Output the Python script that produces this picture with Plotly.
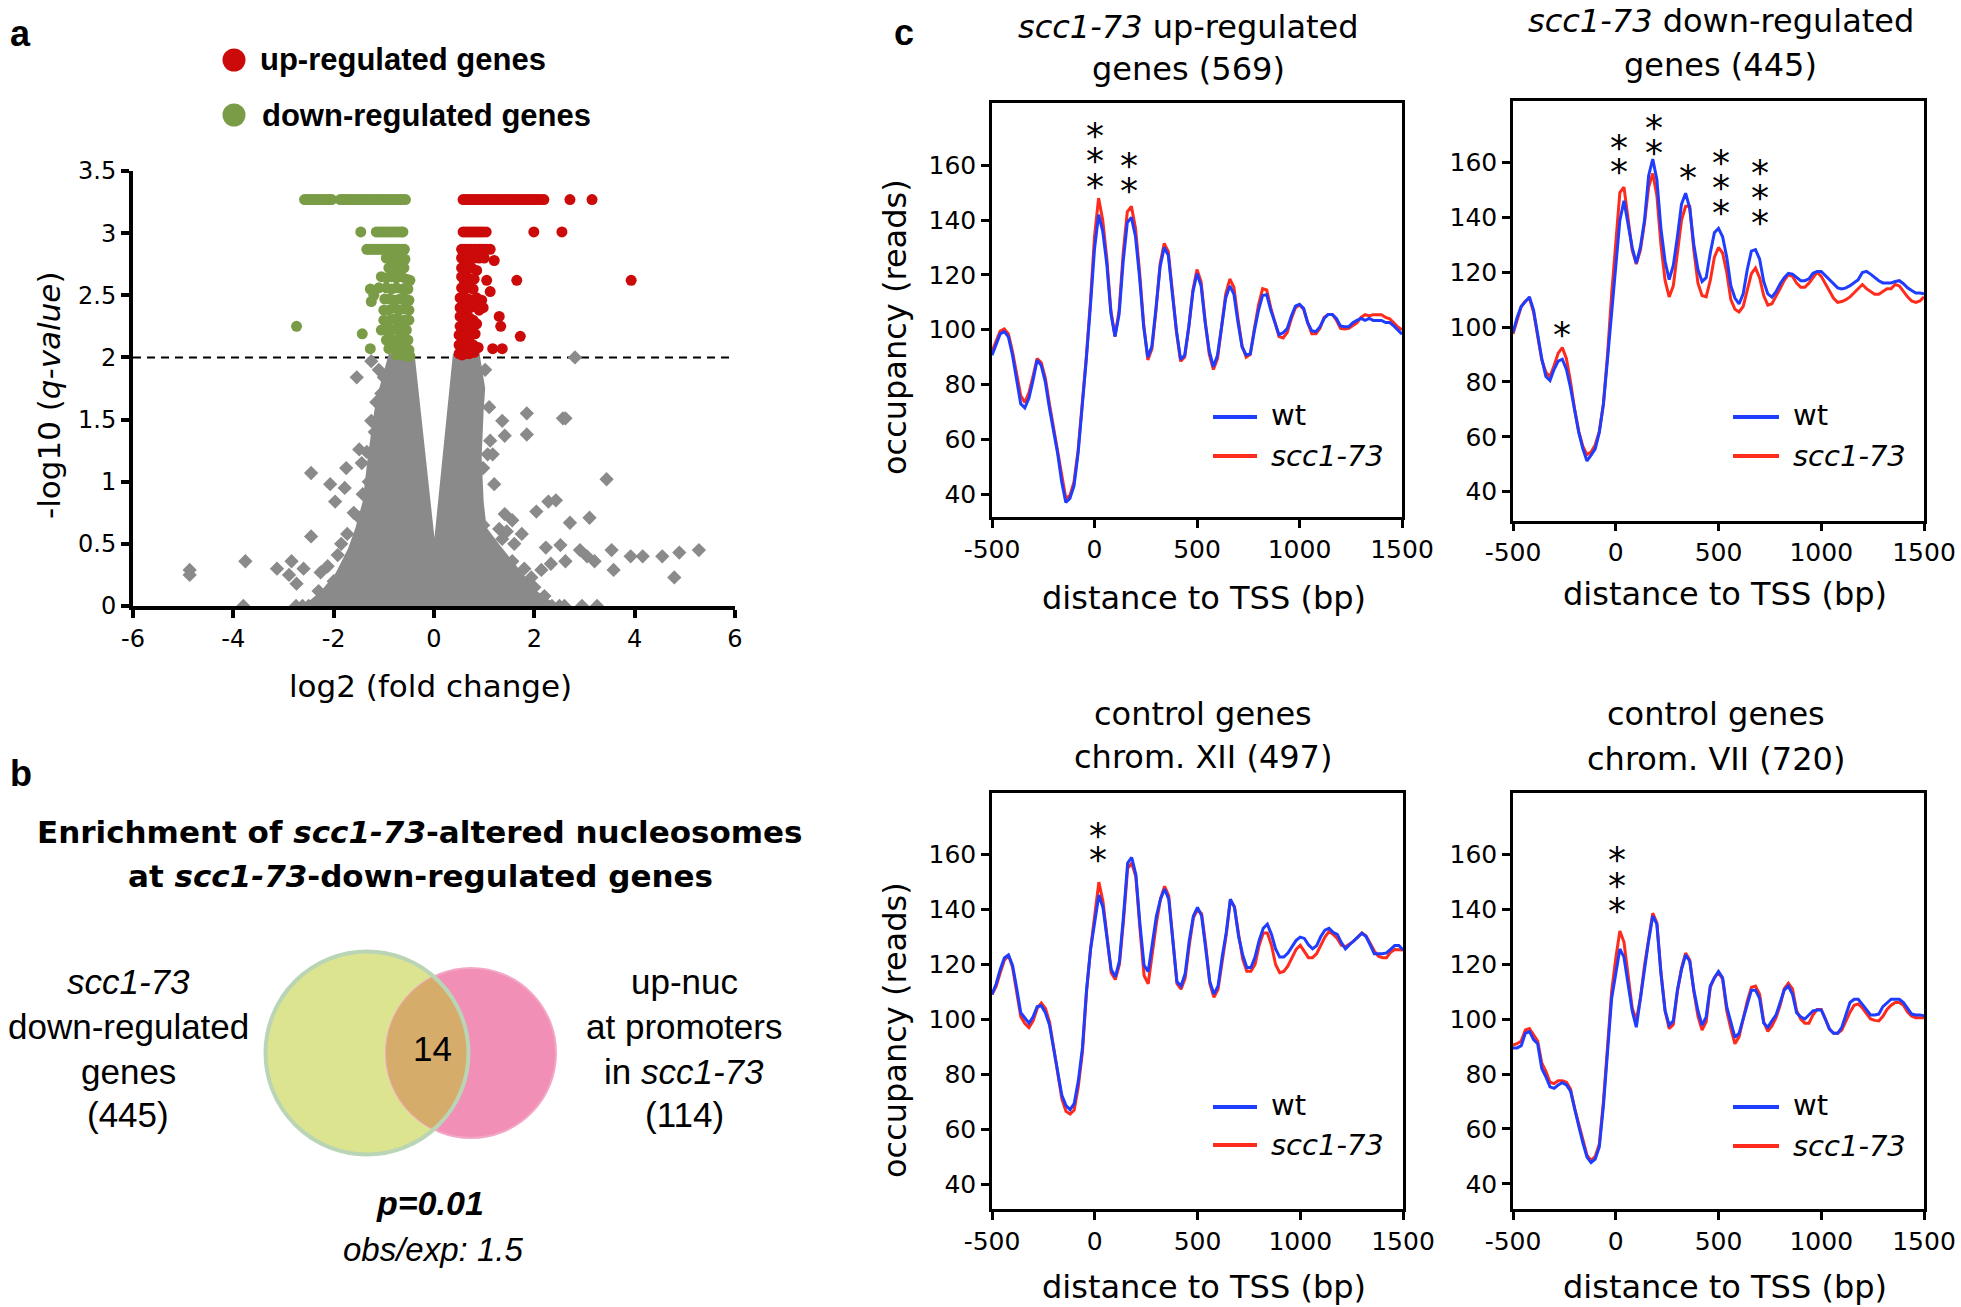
import numpy as np
import plotly.graph_objects as go

W, H = 1961, 1307


def PX(x):
    return x / W


def PY(y):
    return 1 - y / H


# ------------------------------------------------------------------ panel a data
fc_ticks = [-6, -4, -2, 0, 2, 4, 6]
q_ticks = [0, 0.5, 1, 1.5, 2, 2.5, 3, 3.5]
q_tick_labels = ["0", "0.5", "1", "1.5", "2", "2.5", "3", "3.5"]
q_threshold = 2

# outline of the dense (overplotted) grey cloud of non-significant genes
gray_poly_x = [-2.5, -2.2, -1.9, -1.65, -1.5, -1.35, -1.25, -1.12, -1.02, -0.85, -0.45, -0.33, -0.23, -0.14,
               -0.04, 0.0, 0.06, 0.15, 0.25, 0.35, 0.44, 0.85, 0.95, 0.92, 0.88, 0.92, 0.98, 1.3, 1.65, 2.0, 2.35]
gray_poly_y = [0.0, 0.1, 0.25, 0.45, 0.62, 0.84, 1.2, 1.57, 1.75, 2.0, 2.0, 1.57, 1.2, 0.84,
               0.47, 0.23, 0.47, 0.84, 1.2, 1.57, 2.0, 2.0, 1.75, 1.57, 1.2, 0.84, 0.62, 0.45, 0.27, 0.1, 0.0]

gray_x = [2.81, -1.25, -1.54, -1.0, 1.85, 1.36, 2.57, 2.62, 1.41, 1.85, 1.12, -1.0, 1.07, 1.17, -1.49, -1.34,
          -2.45, -1.75, -1.44, 0.98, 3.44, -2.07, -1.78, -1.97, -1.25, 2.04, 2.28, 2.43, 1.41, 1.56, 3.1, 2.71,
          -1.49, -1.73, -2.45, -1.92, -1.54, -3.76, -2.84, -3.13, -2.6, -4.87, -4.87, -2.89, -2.26, -2.74, -2.12,
          1.36, 1.75, 2.23, 2.52, 2.91, 3.05, 3.54, 3.92, 4.16, 4.55, 4.89, 5.28, 4.79, 3.58, 3.2, 1.94, 2.14,
          2.33, 1.75, 1.17, 1.56, 0.98, 0.88, 1.07, 2.62, -1.34, -1.25, -1.2, -1.25, -1.15, -1.05,
          -1.1, -1.18, -1.3, -1.42, -1.6, -1.85, -2.0, -2.3, 1.02, 1.1, 1.2, 1.3, 1.45, 1.6, 1.8, 2.0, 2.2,
          -3.8, -2.75, -2.62, -2.5, -2.38, -2.25, -2.1, -1.95, -1.8, -1.65, -1.5,
          1.3, 1.45, 1.6, 1.75, 1.9, 2.05, 2.2, 2.35, 2.5, 2.6, 2.95, 3.25]
gray_y = [2.0, 1.97, 1.84, 1.84, 1.55, 1.49, 1.51, 1.51, 1.37, 1.38, 1.33, 1.33, 1.22, 1.22, 1.26, 1.24,
          1.07, 1.11, 1.15, 1.11, 1.02, 0.98, 0.95, 0.84, 0.98, 0.76, 0.84, 0.85, 0.74, 0.69, 0.71, 0.67,
          0.71, 0.58, 0.56, 0.41, 0.4, 0.36, 0.36, 0.3, 0.3, 0.29, 0.25, 0.25, 0.27, 0.18, 0.32,
          0.54, 0.58, 0.47, 0.49, 0.45, 0.4, 0.45, 0.4, 0.4, 0.4, 0.43, 0.45, 0.23, 0.29, 0.36, 0.23, 0.29,
          0.34, 0.18, 0.43, 0.36, 0.65, 0.54, 0.19, 0.36, 0.54, 0.8, 1.09, 1.49, 1.64, 1.71,
          1.9, 1.4, 1.0, 0.9, 0.75, 0.5, 0.2, 0.12, 1.9, 1.6, 0.98, 0.62, 0.6, 0.5, 0.3, 0.15, 0.08,
          0, 0, 0, 0, 0, 0, 0, 0, 0, 0, 0,
          0, 0, 0, 0, 0, 0, 0, 0, 0, 0, 0, 0]

red_x = [0.58, 0.63, 0.68, 0.73, 0.78, 0.83, 0.88, 0.93, 0.98, 1.03, 1.08, 1.13, 1.18, 1.23, 1.28, 1.33, 1.38,
         1.43, 1.48, 1.53, 1.58, 1.63, 1.68, 1.73, 1.78, 1.83, 1.88, 1.93, 1.98, 2.03, 2.08, 2.13, 2.19, 2.71, 3.15,
         0.58, 0.63, 0.68, 0.73, 0.78, 0.83, 0.88, 0.93, 0.98, 1.04, 1.99, 2.55,
         0.55, 0.6, 0.65, 0.7, 0.75, 0.8, 0.85, 0.9, 0.95, 1.0, 1.05, 1.12,
         0.55, 0.62, 0.7, 0.8, 0.9, 1.0, 1.2,
         0.55, 0.62, 0.68, 0.75, 0.85,
         0.55, 0.6, 0.68, 0.8, 1.05, 1.65, 3.93,
         0.55, 0.62, 0.7, 0.78, 1.12,
         0.52, 0.6, 0.68, 0.85, 0.95,
         0.52, 0.58, 0.65, 0.72, 0.8, 0.9, 0.98,
         0.52, 0.6, 0.7, 0.78, 1.3,
         0.52, 0.58, 0.65, 0.75, 0.85, 1.33,
         0.5, 0.57, 0.64, 0.72, 0.82, 1.72,
         0.5, 0.56, 0.62, 0.7, 0.78, 0.88, 1.17, 1.36,
         0.5, 0.56, 0.62, 0.7, 0.8]
red_y = [3.27] * 35 + [3.01] * 12 + [2.87] * 12 + \
        [2.8, 2.8, 2.8, 2.8, 2.8, 2.8, 2.78,
         2.72, 2.72, 2.72, 2.72, 2.7,
         2.65, 2.62, 2.64, 2.63, 2.62, 2.62, 2.62,
         2.56, 2.55, 2.56, 2.55, 2.53,
         2.48, 2.48, 2.47, 2.48, 2.46,
         2.4, 2.4, 2.4, 2.4, 2.42, 2.38, 2.4,
         2.33, 2.33, 2.32, 2.3, 2.33,
         2.25, 2.25, 2.26, 2.25, 2.27, 2.25,
         2.18, 2.18, 2.18, 2.17, 2.19, 2.17,
         2.1, 2.1, 2.12, 2.1, 2.1, 2.08, 2.07, 2.07,
         2.03, 2.02, 2.03, 2.03, 2.04]

green_x = [-2.58, -2.53, -2.48, -2.43, -2.38, -2.33, -2.28, -2.23, -2.18, -2.13, -2.08, -2.04, -1.87, -1.82,
           -1.77, -1.72, -1.67, -1.62, -1.57, -1.52, -1.47, -1.42, -1.37, -1.32, -1.27, -1.22, -1.17, -1.12,
           -1.07, -1.02, -0.97, -0.92, -0.87, -0.82, -0.77, -0.72, -0.67, -0.62, -0.57,
           -1.46, -1.15, -1.1, -1.05, -1.0, -0.95, -0.9, -0.85, -0.8, -0.75, -0.7, -0.65, -0.62,
           -1.34, -1.29, -1.24, -1.19, -1.14, -1.09, -1.04, -0.99, -0.94, -0.89, -0.84, -0.79, -0.74, -0.69,
           -0.64, -0.59,
           -0.95, -0.85, -0.75, -0.65, -0.58,
           -0.9, -0.8, -0.7, -0.6,
           -1.05, -0.95, -0.85, -0.75, -0.65, -0.55, -0.48,
           -1.27, -1.2, -1.25, -1.1, -0.95, -0.85, -0.75, -0.62, -0.52,
           -0.98, -0.88, -0.78, -0.68, -0.58, -0.5,
           -1.0, -0.9, -0.8, -0.7, -0.6, -0.5,
           -1.0, -0.88, -0.78, -0.68, -0.58, -0.5,
           -2.74, -1.43, -1.05, -0.95, -0.85, -0.75, -0.65, -0.55,
           -0.95, -0.85, -0.72, -0.62, -0.52,
           -1.27, -0.9, -0.8, -0.7, -0.6, -0.5,
           -0.75, -0.65, -0.55, -0.48]
green_y = [3.27] * 39 + [3.01] * 13 + [2.87] * 16 + \
          [2.8, 2.8, 2.8, 2.8, 2.79,
           2.72, 2.72, 2.72, 2.72,
           2.65, 2.64, 2.65, 2.64, 2.65, 2.63, 2.62,
           2.55, 2.5, 2.45, 2.56, 2.56, 2.55, 2.56, 2.55, 2.55,
           2.47, 2.47, 2.46, 2.47, 2.47, 2.46,
           2.38, 2.38, 2.4, 2.38, 2.39, 2.38,
           2.3, 2.3, 2.31, 2.3, 2.3, 2.3,
           2.25, 2.19, 2.22, 2.22, 2.22, 2.23, 2.22, 2.22,
           2.14, 2.14, 2.15, 2.14, 2.14,
           2.07, 2.07, 2.08, 2.07, 2.06, 2.06,
           2.02, 2.02, 2.01, 2.01]

# ------------------------------------------------------------------ panel c data
tss_ticks = [-500, 0, 500, 1000, 1500]
occ_ticks = [40, 60, 80, 100, 120, 140, 160]
tss = list(range(-500, 1501, 20))  # bin centres (bp) of the occupancy profiles

c1_wt = [90.7, 95, 98.5, 99.3, 97.4, 90.7, 82, 73, 71.5, 75,
         81.5, 88.9, 87, 81, 71.5, 63, 55, 44.5, 37, 38.5,
         43, 55, 71.3, 89.2, 108.6, 129.4, 142, 136, 124, 106,
         97.5, 105.6, 125, 139.1, 141, 134, 119, 101, 90, 94,
         108, 123, 130, 127.2, 113, 99.6, 89.2, 90.7, 101.1, 113.8,
         120.5, 116, 102.6, 92.2, 86.5, 90.7, 101.1, 111.6, 116, 113,
         102.6, 93.7, 90.8, 91.2, 99.6, 107.1, 112.5, 112.8, 107.1, 102.6,
         98.2, 98.9, 100.4, 104.9, 108.6, 109.3, 107.8, 102.6, 99.6, 99.3,
         101.1, 104.1, 105.6, 105.6, 104.1, 101.4, 101.1, 101.1, 102.6, 103.4,
         104.1, 103.4, 104.1, 103.4, 103.4, 103.4, 102.6, 102.6, 101.4, 99.9,
         98.4]
c1_mut = [92, 96, 99.5, 100.3, 98.5, 92, 84, 76, 73.5, 77,
          83, 89.5, 88, 82.5, 73, 64, 56, 46, 38.5, 39.5,
          44.5, 56, 72, 90, 110, 134, 148, 140, 126, 107,
          97.5, 107, 128, 143, 145, 137, 121, 102, 89, 93,
          107, 124, 131.5, 128.5, 114, 99, 88.5, 90, 101, 114.5,
          122, 117.5, 103, 91, 85.5, 89.5, 101, 113, 118.5, 115.5,
          104, 94, 90, 91, 100.5, 109, 115, 114.5, 108, 103,
          97.5, 97, 99, 104, 108, 109, 107.5, 102.5, 98.5, 98.5,
          100.5, 104.5, 105.6, 105.6, 103.5, 100.5, 100.3, 100.5, 101.5, 102.5,
          104.5, 105.5, 105, 105.5, 105.5, 105.5, 104.5, 104, 102.5, 101,
          100]
c2_wt = [98, 103.5, 107.5, 109.4, 111, 106.2, 97, 88.5, 82, 80.5,
         84.6, 87.6, 88.3, 84.6, 77.9, 69, 61.6, 55.6, 51.2, 53.3,
         55.6, 61.6, 72, 88.3, 106.2, 124, 138.9, 146, 138, 129,
         123.3, 129.2, 138.9, 155.2, 161.2, 153.8, 135.9, 124, 117.3, 122.5,
         132.9, 144.8, 148.8, 143.3, 130, 121, 116.6, 118, 127, 134.4,
         136, 132.9, 125.5, 115.1, 110.6, 108.4, 112.1, 121, 127.7, 128.2,
         124.8, 116.6, 112.1, 110.9, 112.9, 115.8, 118, 119.6, 119.3, 118,
         116.9, 116.9, 117.6, 119.6, 120.3, 120.3, 118.8, 117.3, 115.8, 114.3,
         113.9, 114.3, 115.1, 116.1, 117.3, 119.9, 120.3, 119.3, 118, 116.9,
         116.1, 116.1, 116.1, 116.6, 116.9, 115.8, 114.3, 113.3, 112.4, 112.4,
         112.1]
c2_mut = [97.5, 103, 107.5, 109.5, 110.5, 105.5, 96, 88, 83.5, 82,
          86, 90.5, 92.5, 88.5, 80, 70, 62, 56.5, 53.5, 54.5,
          57, 62, 72, 90, 112, 130, 149, 151, 140, 128,
          123, 128, 138, 151, 156, 148, 130, 117, 111, 115,
          127, 139, 144, 144, 128, 116, 111.5, 111, 117, 125.5,
          129, 127, 120, 110, 106.5, 105.5, 107.5, 114, 119.5, 121.5,
          118, 111.5, 108, 108.5, 111, 114, 117, 119, 118.5, 116,
          114.5, 114.5, 116, 118, 120, 118.5, 116, 113.5, 110.5, 109,
          109.3, 110, 111, 112.5, 114, 115.5, 114, 113, 112, 112,
          113, 114, 114, 115.5, 115, 113, 111, 109.5, 109, 109.5,
          111]
c3_wt = [109.2, 112.9, 118.2, 122.4, 123.5, 119.7, 111.4, 102.4, 100.5, 98.6,
         100.9, 104.7, 105, 102.4, 97.9, 88.9, 79.8, 72.3, 68.6, 67.1,
         69.3, 77.6, 89.6, 110.7, 125.7, 134.7, 145.3, 140.8, 128.8, 118.2,
         115.5, 121.2, 137.7, 157, 159, 152.8, 134.7, 119.7, 117.4, 127.2,
         137.7, 143.8, 147.5, 143.8, 128.8, 113.7, 112.2, 116.7, 128.8, 137.7,
         140.8, 137.7, 125.7, 113.7, 109.2, 112.2, 122.7, 131.7, 143.8, 140.8,
         130.2, 123.5, 118.9, 118.9, 122.7, 128.8, 133.2, 134.7, 131, 125.7,
         122.7, 122.7, 124.2, 126.5, 128.8, 130, 129.5, 127.2, 125.7, 126.9,
         130.2, 132.5, 133.2, 131.7, 131, 128, 125.7, 127.2, 128.8, 130,
         131.4, 130.2, 127.2, 123.9, 123.9, 123.9, 124.2, 125.7, 126.9, 126.9,
         125.3]
c3_mut = [109, 112, 117, 121.5, 123.5, 119, 110, 101, 98.5, 97,
          99.5, 104, 106, 104, 99, 90, 80, 71, 66.5, 65.5,
          67, 75.5, 88, 110, 126, 138, 150, 143, 130, 117,
          114.5, 120, 136, 155, 157, 152, 133, 116, 113, 125,
          135, 144, 148.5, 145, 128, 113, 111, 115, 127, 137,
          140, 138.5, 127, 113, 108, 111, 121, 131, 143.5, 141,
          131, 122, 117.5, 117.5, 120, 127, 131.5, 131.5, 127, 120,
          117, 117.5, 119.5, 122.5, 125.5, 127, 124.5, 122.5, 122.5, 124,
          127, 130, 132, 131, 129.5, 127, 126.5, 127.5, 128.5, 130,
          131.5, 130.5, 127.5, 125, 123, 122.5, 122.5, 124.5, 125.5, 125.5,
          125.3]
c4_wt = [89.5, 89.5, 90.3, 94.8, 95.5, 92.5, 91, 82, 79, 75.3,
         74.8, 76, 76.8, 76, 73.8, 67, 61, 55, 49.8, 47.8,
         49, 53.5, 68.5, 88, 107.5, 116.5, 125.5, 122.5, 112, 103,
         97, 107.5, 119.5, 128.5, 137.5, 134.5, 116.5, 103, 97.8, 99.3,
         110.5, 118, 123.3, 121, 110.5, 103, 97.8, 100.8, 112, 115,
         117.3, 115, 104.5, 98.5, 93.3, 94.8, 100, 106, 110.5, 110.5,
         107.5, 98.5, 97, 99.3, 101.5, 106, 110.5, 112, 109, 102.3,
         100.8, 100, 101.5, 103, 103.3, 103.3, 100, 96.3, 94.8, 94.8,
         97, 101.5, 106, 107.2, 107.2, 105.3, 103.3, 101.5, 101.5, 101.8,
         104.5, 106, 107.2, 107.2, 107.2, 106, 103.8, 101.8, 101.5, 101.5,
         101.2]
c4_mut = [90.5, 91, 92, 96, 96.5, 94, 92, 84, 81, 77,
          76.5, 77.5, 77.5, 77, 74.5, 67.5, 61.5, 56, 50.5, 48.5,
          50, 54.5, 70, 90, 110, 122, 132, 128, 116, 104,
          99.5, 107.5, 119.5, 129, 138.5, 135, 117, 103, 96.5, 98,
          110, 118.5, 124, 121.5, 110, 101, 96, 99, 111.5, 115,
          117, 114.5, 103, 96.5, 91, 93.5, 100, 106.5, 111.5, 112,
          109, 99, 95.5, 97.5, 100.5, 105, 111, 113, 111, 103,
          100, 98.5, 98.5, 101.5, 103.5, 103.5, 100, 96.3, 94.8, 94.8,
          96, 99.5, 102.5, 105, 105.5, 104, 102, 100, 99.5, 99.3,
          101, 103.5, 105, 106, 106, 105, 102.5, 101, 100.5, 100.5,
          100.5]

# significance asterisks (bp, occupancy) for each panel
c1_stars_x = [0, 0, 0, 170, 170]
c1_stars_y = [174.2, 164.9, 155.5, 163.3, 154]
c2_stars_x = [-260, 14, 14, 184, 184, 352, 510, 510, 510, 702, 702, 702]
c2_stars_y = [100.7, 168.9, 160, 176, 166.8, 157.8, 163.1, 154.2, 145.1, 159.7, 150.5, 141.4]
c3_stars_x = [16, 16]
c3_stars_y = [170.4, 161.5]
c4_stars_x = [8, 8, 8]
c4_stars_y = [161.2, 152, 142.75]

# ------------------------------------------------------------------ styles
GRAY = "#8a8a8a"
RED = "#cc0a0a"
GREEN = "#7a9c47"
BLUE_L = "#1f3dff"
RED_L = "#ff2b1c"
DV = "DejaVu Sans"
LS = "Liberation Sans"

fig = go.Figure()

# ---------------- panel a traces
fig.add_trace(go.Scatter(x=gray_poly_x, y=gray_poly_y, fill="toself", fillcolor=GRAY, mode="lines",
                         line=dict(color=GRAY, width=7), xaxis="x", yaxis="y", hoverinfo="skip"))
fig.add_trace(go.Scatter(x=gray_x, y=gray_y, mode="markers", xaxis="x", yaxis="y",
                         marker=dict(symbol="diamond", size=11, color=GRAY, line=dict(width=0))))
fig.add_trace(go.Scatter(x=green_x, y=green_y, mode="markers", xaxis="x", yaxis="y",
                         marker=dict(symbol="circle", size=11, color=GREEN, line=dict(width=0))))
fig.add_trace(go.Scatter(x=red_x, y=red_y, mode="markers", xaxis="x", yaxis="y",
                         marker=dict(symbol="circle", size=11, color=RED, line=dict(width=0))))

# ---------------- panel c traces
profiles = [(c1_wt, c1_mut), (c2_wt, c2_mut), (c3_wt, c3_mut), (c4_wt, c4_mut)]
for k, (wt, mut) in enumerate(profiles, start=2):
    fig.add_trace(go.Scatter(x=tss, y=mut, mode="lines", line=dict(color=RED_L, width=3),
                             xaxis=f"x{k}", yaxis=f"y{k}"))
    fig.add_trace(go.Scatter(x=tss, y=wt, mode="lines", line=dict(color=BLUE_L, width=3),
                             xaxis=f"x{k}", yaxis=f"y{k}"))

# ---------------- axes
layout = dict(
    width=W, height=H, margin=dict(l=0, r=0, t=0, b=0, autoexpand=False), showlegend=False,
    paper_bgcolor="white", plot_bgcolor="rgba(0,0,0,0)",
    xaxis=dict(domain=[PX(133), PX(735)], range=[-6, 6], anchor="y", showgrid=False, zeroline=False,
               automargin=False,
               showline=True, linecolor="black", linewidth=4, ticks="outside", ticklen=8, tickwidth=3.5,
               tickcolor="black", tickvals=fc_ticks, ticktext=[str(v) for v in fc_ticks],
               tickfont=dict(family=DV, size=24, color="black")),
    yaxis=dict(domain=[PY(606), PY(171)], range=[0, 3.5], anchor="x", showgrid=False, zeroline=False,
               automargin=False,
               showline=True, linecolor="black", linewidth=4, ticks="outside", ticklen=8, tickwidth=3.5,
               tickcolor="black", tickvals=q_ticks, ticktext=q_tick_labels,
               tickfont=dict(family=DV, size=24, color="black")),
)

c_boxes = [
    ((992, 1402), (103, 517), (31.7, 182.7)),
    ((1513, 1924), (101, 520.5), (29.5, 182.4)),
    ((992, 1403), (793, 1209), (30.9, 182.5)),
    ((1513, 1924), (793, 1209), (30.9, 182.2)),
]
for k, ((x0, x1), (y0, y1), yr) in enumerate(c_boxes, start=2):
    common = dict(showgrid=False, zeroline=False, showline=True, mirror=True, linecolor="black",
                  linewidth=2.5, ticks="outside", ticklen=8, tickwidth=2.5, tickcolor="black",
                  automargin=False, tickfont=dict(family=DV, size=25, color="black"))
    layout[f"xaxis{k}"] = dict(domain=[PX(x0), PX(x1)], range=[-500, 1500], anchor=f"y{k}",
                               tickvals=tss_ticks, ticktext=[str(v) for v in tss_ticks], **common)
    layout[f"yaxis{k}"] = dict(domain=[PY(y1), PY(y0)], range=list(yr), anchor=f"x{k}",
                               tickvals=occ_ticks, ticktext=[str(v) for v in occ_ticks], **common)
fig.update_layout(**layout)

# ---------------- annotations
anns = []


def ann(text, x, y, size, family=DV, xanchor="center", yanchor="middle", angle=0):
    anns.append(dict(text=text, x=PX(x), y=PY(y), xref="paper", yref="paper", showarrow=False,
                     font=dict(family=family, size=size, color="black"), xanchor=xanchor,
                     yanchor=yanchor, textangle=angle))


# panel letters
ann("<b>a</b>", 20, 33, 36, family=LS)
ann("<b>b</b>", 21, 773, 36, family=LS)
ann("<b>c</b>", 904, 32, 36, family=LS)

# panel a legend + titles
ann("<b>up-regulated genes</b>", 258, 60, 31, family=LS, xanchor="left")
ann("<b>down-regulated genes</b>", 260, 115, 31, family=LS, xanchor="left")
ann("log2 (fold change)", 430, 686, 31)
ann("-log10 (<i>q-value</i>)", 49, 395, 31, angle=-90)

# panel b texts
ann("<b>Enrichment of <i>scc1-73</i>-altered nucleosomes</b>", 420, 832, 31)
ann("<b>at <i>scc1-73</i>-down-regulated genes</b>", 420, 876, 31)
for txt, yy in [("<i>scc1-73</i>", 981), ("down-regulated", 1026), ("genes", 1071), ("(445)", 1114)]:
    ann(txt, 128, yy, 35, family=LS)
for txt, yy in [("up-nuc", 981), ("at promoters", 1026), ("in <i>scc1-73</i>", 1071), ("(114)", 1114)]:
    ann(txt, 684, yy, 35, family=LS)
ann("14", 432, 1048, 35, family=LS)
ann("<b><i>p=0.01</i></b>", 430, 1203, 34, family=LS)
ann("<i>obs/exp: 1.5</i>", 433, 1249, 33, family=LS)

# panel c titles
ann("<i>scc1-73</i> up-regulated", 1188, 27, 32)
ann("genes (569)", 1188, 69, 32)
ann("<i>scc1-73</i> down-regulated", 1721, 21, 32)
ann("genes (445)", 1720, 65, 32)
ann("control genes", 1203, 714, 32)
ann("chrom. XII (497)", 1203, 757, 32)
ann("control genes", 1716, 714, 32)
ann("chrom. VII (720)", 1716, 759, 32)
for (xx, yy) in [(1204, 598), (1725, 594), (1204, 1287), (1725, 1287)]:
    ann("distance to TSS (bp)", xx, yy, 32)
ann("occupancy (reads)", 895, 327, 32, angle=-90)
ann("occupancy (reads)", 895, 1030, 32, angle=-90)

# panel c legends
shapes = []
for (lx0, lx1, ywt, ymut) in [(1213, 1257, 417, 456), (1733, 1779, 417, 456),
                              (1213, 1257, 1107, 1145), (1733, 1779, 1107, 1146)]:
    shapes.append(dict(type="line", xref="paper", yref="paper", x0=PX(lx0), x1=PX(lx1),
                       y0=PY(ywt), y1=PY(ywt), line=dict(color=BLUE_L, width=4)))
    shapes.append(dict(type="line", xref="paper", yref="paper", x0=PX(lx0), x1=PX(lx1),
                       y0=PY(ymut), y1=PY(ymut), line=dict(color=RED_L, width=4)))
    ann("wt", lx1 + 12, ywt - 2, 29, xanchor="left")
    ann("<i>scc1-73</i>", lx1 + 12, ymut, 29, xanchor="left")

# asterisks
stars = [(c1_stars_x, c1_stars_y), (c2_stars_x, c2_stars_y), (c3_stars_x, c3_stars_y), (c4_stars_x, c4_stars_y)]
for k, (sx, sy) in enumerate(stars, start=2):
    for a, b in zip(sx, sy):
        anns.append(dict(text="*", x=a, y=b, xref=f"x{k}", yref=f"y{k}", showarrow=False, yshift=-9,
                         font=dict(family=DV, size=36, color="black"), xanchor="center", yanchor="middle"))

# panel a threshold line
shapes.append(dict(type="line", xref="x", yref="y", x0=-6, x1=6, y0=q_threshold, y1=q_threshold,
                   layer="below", line=dict(color="black", width=2, dash="8px,6px")))

# panel a legend dots
for cy, col in [(60, RED), (115, GREEN)]:
    shapes.append(dict(type="circle", xref="paper", yref="paper", x0=PX(222.5), x1=PX(245.5),
                       y0=PY(cy + 11.5), y1=PY(cy - 11.5), fillcolor=col, line=dict(width=0)))

# panel b Venn diagram
gcx, gcy, gr = 367, 1053, 101.5
pcx, pcy, pr = 471, 1053, 85
shapes.append(dict(type="circle", xref="paper", yref="paper", x0=PX(gcx - gr), x1=PX(gcx + gr),
                   y0=PY(gcy + gr), y1=PY(gcy - gr), fillcolor="#dce48f", line=dict(width=0)))
shapes.append(dict(type="circle", xref="paper", yref="paper", x0=PX(pcx - pr), x1=PX(pcx + pr),
                   y0=PY(pcy + pr), y1=PY(pcy - pr), fillcolor="#f18fb6", line=dict(color="#f4a6c6", width=2)))
d = pcx - gcx
a_ = (gr ** 2 - pr ** 2 + d ** 2) / (2 * d)
h_ = np.sqrt(gr ** 2 - a_ ** 2)
tg = np.arctan2(h_, a_)
tp = np.arctan2(h_, a_ - d)
pts = []
for t in np.linspace(-tg, tg, 60):
    pts.append((gcx + gr * np.cos(t), gcy + gr * np.sin(t)))
for t in np.linspace(tp, 2 * np.pi - tp, 60):
    pts.append((pcx + pr * np.cos(t), pcy + pr * np.sin(t)))
path = "M " + " L ".join(f"{PX(x):.5f},{PY(y):.5f}" for x, y in pts) + " Z"
shapes.append(dict(type="path", xref="paper", yref="paper", path=path, fillcolor="#d6ac6b",
                   line=dict(width=0)))
shapes.append(dict(type="circle", xref="paper", yref="paper", x0=PX(gcx - gr), x1=PX(gcx + gr),
                   y0=PY(gcy + gr), y1=PY(gcy - gr), fillcolor="rgba(0,0,0,0)",
                   line=dict(color="#b9d5b6", width=4)))

fig.update_layout(annotations=anns, shapes=shapes)

fig.write_html("out.html", include_plotlyjs=True, full_html=True, config={"displayModeBar": False},
               post_script="document.body.style.margin='0';document.body.style.overflow='hidden';")
